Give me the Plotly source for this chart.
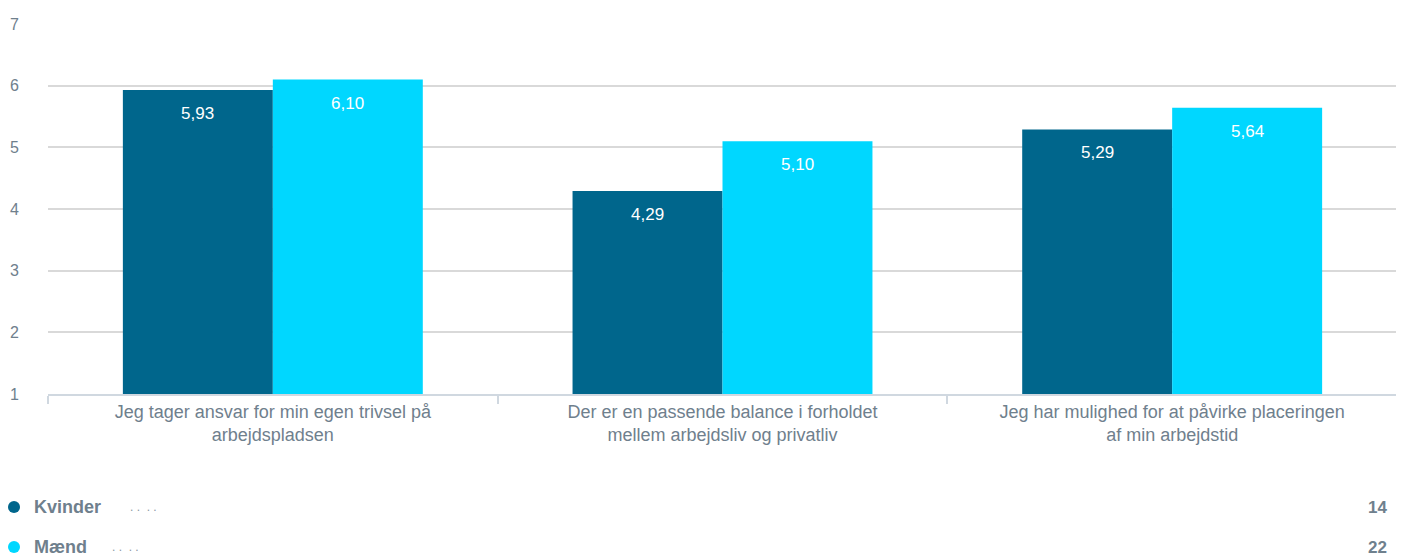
import plotly.graph_objects as go

categories = [
    "Jeg tager ansvar for min egen trivsel på<br>arbejdspladsen",
    "Der er en passende balance i forholdet<br>mellem arbejdsliv og privatliv",
    "Jeg har mulighed for at påvirke placeringen<br>af min arbejdstid",
]
series_names = ["Kvinder", "Mænd"]
kvinder = [5.93, 4.29, 5.29]
maend = [6.10, 5.10, 5.64]
counts = [14, 22]
colors = ["#00668c", "#00d7ff"]
y_ticks = [1, 2, 3, 4, 5, 6, 7]

GRAY = "#6f808d"
FONT = "Liberation Sans, Arial, sans-serif"

# page body has an 8px margin; figure is sized/offset to compensate
OFF = 8
W, H = 1404 - OFF, 556 - OFF
L, R, T, B = 48 - OFF, 7, 24 - OFF, 162
PW, PH = W - L - R, H - T - B


def px_x(px):
    return (px - OFF - L) / PW


def px_y(py):
    return (H - B - (py - OFF)) / PH


fig = go.Figure()
for name, vals, col in zip(series_names, [kvinder, maend], colors):
    fig.add_trace(go.Bar(
        x=categories, y=[v - 1 for v in vals], base=1, name=name,
        marker=dict(color=col, line=dict(width=0)),
        showlegend=False, hoverinfo="skip",
    ))

# data labels
for vals, shift in zip([kvinder, maend], [-75, 75]):
    for c, v in zip(categories, vals):
        fig.add_annotation(
            x=c, y=v, xref="x", yref="y", text=f"{v:.2f}".replace(".", ","),
            showarrow=False, xshift=shift, yanchor="top", yshift=-12,
            font=dict(color="white", size=17, family=FONT),
        )

# custom legend
for name, col, cnt, py, dots_x in zip(series_names, colors, counts, [507, 547], [128, 110]):
    ly = px_y(py)
    fig.add_shape(type="circle", xref="paper", yref="paper",
                  xsizemode="pixel", ysizemode="pixel",
                  xanchor=px_x(14), yanchor=ly, x0=-6, x1=6, y0=-6, y1=6,
                  fillcolor=col, line=dict(width=0))
    fig.add_annotation(xref="paper", yref="paper", x=px_x(32), y=ly,
                       text=f"<b>{name}</b>", showarrow=False, xanchor="left",
                       yanchor="middle", font=dict(color=GRAY, size=18, family=FONT))
    fig.add_annotation(xref="paper", yref="paper", x=px_x(dots_x), y=ly,
                       text=". .  . .", showarrow=False, xanchor="left",
                       yanchor="middle", font=dict(color="#8a98a4", size=12, family=FONT))
    fig.add_annotation(xref="paper", yref="paper", x=px_x(1389), y=ly,
                       text=f"<b>{cnt}</b>", showarrow=False, xanchor="right",
                       yanchor="middle", font=dict(color=GRAY, size=17, family=FONT))

fig.update_layout(
    width=W, height=H,
    margin=dict(l=L, r=R, t=T, b=B),
    paper_bgcolor="white", plot_bgcolor="white",
    barmode="group", bargap=0.333, bargroupgap=0,
    font=dict(family=FONT, color=GRAY),
    xaxis=dict(
        automargin=False,
        showgrid=False, showline=True, linecolor="#d0d8e0", linewidth=2,
        ticks="outside", tickson="boundaries", ticklen=8, tickcolor="#d0d8e0", tickwidth=2,
        tickfont=dict(size=18, color=GRAY, family=FONT),
    ),
    yaxis=dict(
        automargin=False,
        range=[1, 7], tickvals=y_ticks, showgrid=True, gridcolor="#d9d9d9", gridwidth=2,
        zeroline=False, showline=False, ticks="", ticklabelstandoff=28,
        tickfont=dict(size=16, color=GRAY, family=FONT),
    ),
)

fig.write_html("out.html")
